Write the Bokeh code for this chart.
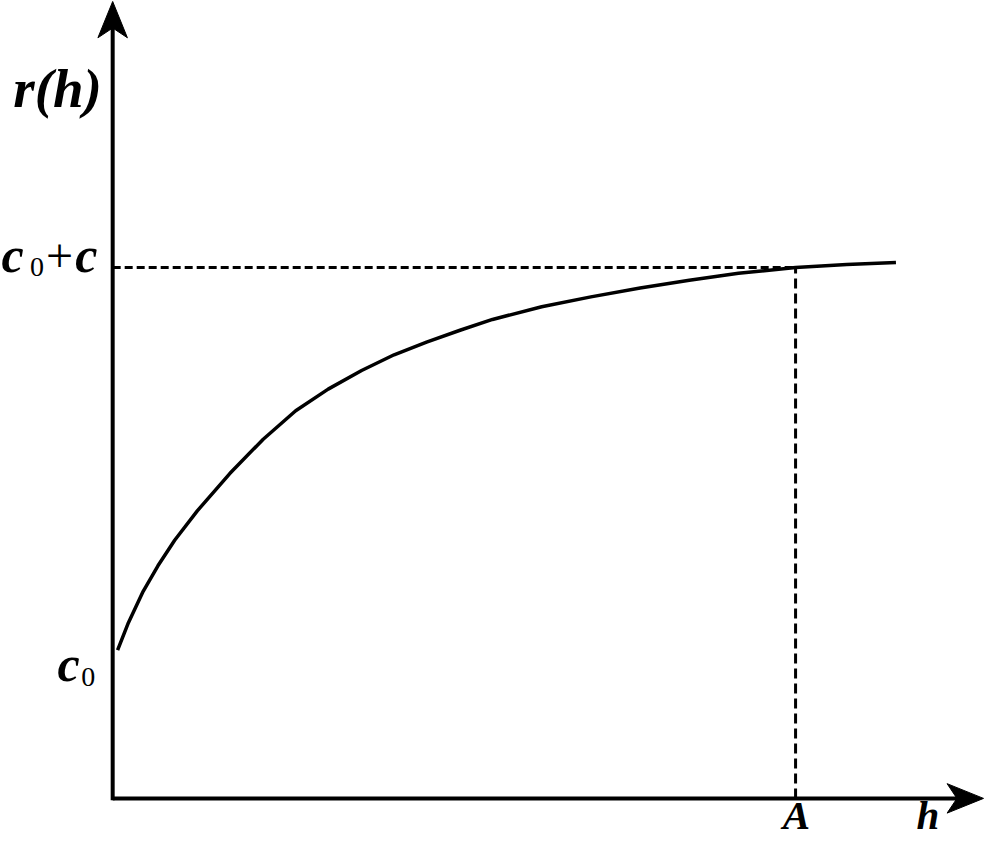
from bokeh.plotting import figure
from bokeh.models import Range1d
from bokeh.core.properties import value
from bokeh.embed import file_html
from bokeh.resources import INLINE

# Curve: semivariogram-like r(h) (axis units = picture pixels from origin)
h_vals = [5, 16, 31, 46, 63, 86, 119, 153, 186, 219, 253, 286, 319, 353, 386,
          436, 486, 536, 586, 636, 694, 746, 796]
r_vals = [151, 179, 211, 237, 263, 293, 331, 366, 395, 417, 436, 452, 465, 477, 488,
          501, 511, 520, 528, 535, 541, 544, 546]
nugget = 151      # c0
sill = 541        # c0 + c
range_a = 694     # A
x_axis_end = 885
y_axis_end = 812

SERIF = value("Liberation Serif")

p = figure(width=984, height=845, output_backend="svg", toolbar_location=None,
           x_range=Range1d(-114, 886), y_range=Range1d(-48, 813),
           min_border=0, outline_line_color=None)
p.axis.visible = False
p.grid.visible = False
p.background_fill_color = "white"

# axes
p.line([0, x_axis_end - 20], [0, 0], line_color="black", line_width=4)
p.line([0, 0], [-2, y_axis_end - 20], line_color="black", line_width=4)

# arrow heads (notched), built relative to the axis ends
L, W, N = 37, 15, 27
p.patches(
    [[x_axis_end, x_axis_end - L, x_axis_end - N, x_axis_end - L],
     [0, -W, 0, W]],
    [[0, W, 0, -W],
     [y_axis_end, y_axis_end - L, y_axis_end - N, y_axis_end - L]],
    fill_color="black", line_color="black", line_width=1)

# dashed guides
p.line([0, range_a], [sill, sill], line_color="black", line_width=3, line_dash="8 4")
p.line([range_a, range_a], [0, sill], line_color="black", line_width=3, line_dash="10 5")

# curve
p.line(h_vals, r_vals, line_color="black", line_width=3.5)

def txt(x, y, s, size, style="bold italic", align="left"):
    # lift the anchor to compensate for the rendered baseline offset
    px = float(size.replace("px", ""))
    p.text(x=[x], y=[y + 0.31 * px], text=[s], text_font=SERIF, text_font_size=size,
           text_font_style=style, text_align=align, text_baseline="alphabetic",
           text_color="black")

# y label r(h)
txt(-101, y_axis_end - 106, "r(h)", "55px")
# c0 + c
txt(-113, sill - 3, "c", "50px")
txt(-84, sill - 8, "0", "28px", style="normal")
txt(-54, sill - 3, "+", "48px", style="normal", align="center")
txt(-38, sill - 3, "c", "50px")
# c0
txt(-56, nugget - 30, "c", "50px")
txt(-32, nugget - 36, "0", "28px", style="normal")
# A and h
txt(range_a - 13, -30, "A", "41px")
txt(x_axis_end - 68, -30, "h", "41px")

open("out.html", "w").write(file_html(p, INLINE))
